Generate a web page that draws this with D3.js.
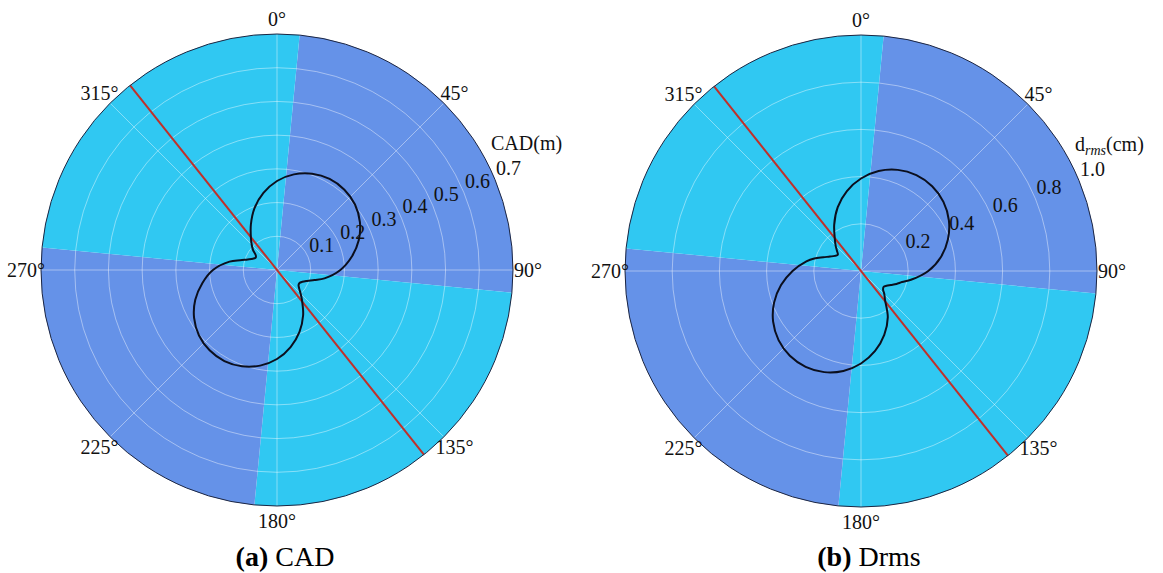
<!DOCTYPE html>
<meta charset="utf-8">
<body style="margin:0">
<script src="https://d3js.org/d3.v7.min.js"></script>
<script>
// bearings in degrees (clockwise from north)
const angleDeg = [0,10,20,30,40,50,60,70,80,90,100,105,110,115,120,125,130,135,140,
  150,160,170,180,190,200,210,220,230,240,250,260,270,280,285,290,295,300,305,310,315,320,330,340,350];
// CAD (m)
const cadValues = [0.264,0.288,0.304,0.312,0.311,0.302,0.284,0.258,0.225,0.188,0.143,0.115,0.095,0.083,0.077,0.078,0.086,0.099,0.115,
  0.155,0.195,0.232,0.264,0.288,0.304,0.312,0.311,0.302,0.284,0.258,0.225,0.190,0.143,0.113,0.092,0.079,0.073,0.077,0.093,0.106,0.120,0.155,0.195,0.232];
// drms (cm)
const drmsValues = [0.392,0.430,0.456,0.469,0.469,0.456,0.430,0.392,0.344,0.285,0.215,0.180,0.160,0.140,0.125,0.117,0.122,0.140,0.158,
  0.227,0.288,0.344,0.392,0.430,0.456,0.469,0.469,0.456,0.430,0.392,0.344,0.290,0.235,0.205,0.170,0.145,0.128,0.120,0.133,0.152,0.172,0.227,0.288,0.344];

const thetaTicks = [0,45,90,135,180,225,270,315];
const cadTicks = [0.1,0.2,0.3,0.4,0.5,0.6,0.7];
const drmsTicks = [0.2,0.4,0.6,0.8,1.0];
const sectorEdges = [5.5,95.5,185.5,275.5,365.5];
const sectorColors = ["#6592e8","#30c8f2","#6592e8","#30c8f2"];
const redLineDeg = 141.5;

const W = 1163, H = 573, R = 236;
const rad = d => d * Math.PI / 180;

const svg = d3.select("body").append("svg")
  .attr("width", W).attr("height", H);

function addText(sel, size) {
  return sel.style("font-family", "Liberation Serif").style("font-size", size + "px").attr("fill", "#111");
}

function polar(cx, cy, values, ticks, tickFmt, axisTitle, caption) {
  const g = svg.append("g").attr("transform", `translate(${cx},${cy})`);
  const r = d3.scaleLinear().domain([0, d3.max(ticks)]).range([0, R]);

  // coloured sectors
  const arc = d3.arc().innerRadius(0).outerRadius(R);
  g.selectAll(".sector").data(d3.range(4)).enter().append("path")
    .attr("d", i => arc({startAngle: rad(sectorEdges[i]), endAngle: rad(sectorEdges[i + 1])}))
    .attr("fill", i => sectorColors[i]);

  // grid
  g.selectAll(".ring").data(ticks.slice(0, -1)).enter().append("circle")
    .attr("fill", "none").attr("stroke", "rgba(255,255,255,0.42)")
    .attr("r", d => r(d));
  g.selectAll(".spoke").data(thetaTicks).enter().append("line")
    .attr("stroke", "rgba(255,255,255,0.42)")
    .attr("x2", d => R * Math.sin(rad(d)))
    .attr("y2", d => -R * Math.cos(rad(d)));

  // red line
  g.append("line").attr("stroke", "#c0302a").attr("stroke-width", 2)
    .attr("x1", R * Math.sin(rad(redLineDeg))).attr("y1", -R * Math.cos(rad(redLineDeg)))
    .attr("x2", -R * Math.sin(rad(redLineDeg))).attr("y2", R * Math.cos(rad(redLineDeg)));

  // curve
  const line = d3.lineRadial()
    .angle((d, i) => rad(angleDeg[i]))
    .radius(d => r(d))
    .curve(d3.curveCatmullRomClosed.alpha(0.5));
  g.append("path").attr("fill", "none").attr("stroke", "#0b0f1e").attr("stroke-width", 2)
    .attr("d", line(values));

  g.append("circle").attr("fill", "none").attr("stroke", "#1c2541").attr("r", R);

  // theta labels
  addText(g.selectAll(".tlab").data(thetaTicks).enter().append("text"), 20)
    .attr("x", d => (R + 15) * Math.sin(rad(d)))
    .attr("y", d => -(R + 15) * Math.cos(rad(d)) + 7)
    .attr("text-anchor", "middle")
    .text(d => d + "°");

  // radial tick labels
  const la = rad(67.5);
  addText(g.selectAll(".rlab").data(ticks).enter().append("text"), 20)
    .attr("x", d => r(d) * Math.sin(la) + 1)
    .attr("y", d => -r(d) * Math.cos(la) - 5)
    .text(tickFmt);

  const tt = addText(g.append("text"), 20)
    .attr("x", R * Math.sin(la) - 4)
    .attr("y", -R * Math.cos(la) - 30);
  axisTitle(tt);

  const cap = addText(svg.append("text"), 28)
    .attr("x", cx + 8).attr("y", 566)
    .attr("text-anchor", "middle").attr("fill", "#000");
  caption(cap);
}

polar(277, 270, cadValues, cadTicks, d3.format(".1f"),
  t => t.text("CAD(m)"),
  t => { t.append("tspan").style("font-weight", "bold").text("(a)"); t.append("tspan").text(" CAD"); });

polar(861, 271, drmsValues, drmsTicks, d3.format(".1f"),
  t => {
    t.append("tspan").text("d");
    t.append("tspan").style("font-style", "italic").style("font-size", "14px").attr("dy", 4).text("rms");
    t.append("tspan").attr("dy", -4).text("(cm)");
  },
  t => { t.append("tspan").style("font-weight", "bold").text("(b)"); t.append("tspan").text(" Drms"); });
</script>
</body>
